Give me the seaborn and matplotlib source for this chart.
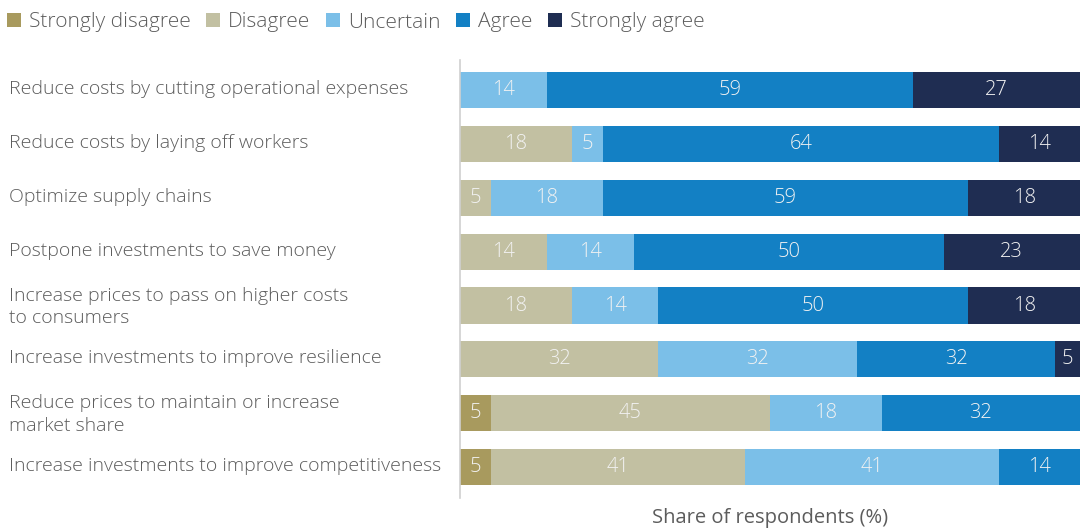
import matplotlib
matplotlib.use("Agg")
import matplotlib.pyplot as plt
import matplotlib.transforms as mtransforms
from matplotlib.patches import Patch
import numpy as np
import pandas as pd
import seaborn as sns

categories = [
    "Reduce costs by cutting operational expenses",
    "Reduce costs by laying off workers",
    "Optimize supply chains",
    "Postpone investments to save money",
    "Increase prices to pass on higher costs\nto consumers",
    "Increase investments to improve resilience",
    "Reduce prices to maintain or increase\nmarket share",
    "Increase investments to improve competitiveness",
]
strongly_disagree = [0, 0, 0, 0, 0, 0, 5, 5]
disagree = [0, 18, 5, 14, 18, 32, 45, 41]
uncertain = [14, 5, 18, 14, 14, 32, 18, 41]
agree = [59, 64, 59, 50, 50, 32, 32, 14]
strongly_agree = [27, 14, 18, 23, 18, 5, 0, 0]

response_names = ["Strongly disagree", "Disagree", "Uncertain", "Agree", "Strongly agree"]
response_colors = ["#A89A5E", "#C2C0A2", "#7BBFE8", "#1380C4", "#1F2D52"]
series = [strongly_disagree, disagree, uncertain, agree, strongly_agree]

sns.set_theme(style="white")
plt.rcParams["font.family"] = ["Open Sans", "DejaVu Sans"]
plt.rcParams["font.weight"] = "light"
text_color = "#5c5c5c"

fig = plt.figure(figsize=(10.8, 5.3), dpi=100)
ax = fig.add_axes([460 / 1080, 32 / 530, 620 / 1080, 438 / 530])

values = np.array(series, dtype=float)  # shape (responses, categories)
cum = np.cumsum(values, axis=0)

# Stacked bars: draw cumulative totals from the outermost segment inward
for i in range(len(series) - 1, -1, -1):
    df = pd.DataFrame({"category": categories, "value": cum[i]})
    sns.barplot(data=df, x="value", y="category", orient="h", color=response_colors[i],
                saturation=1, width=0.67, ax=ax, linewidth=0, errorbar=None)

# Segment value labels (centred on the visible part of each segment)
for i in range(len(series)):
    for j in range(len(categories)):
        v = values[i, j]
        if v <= 0:
            continue
        start = cum[i, j] - v
        end = min(cum[i, j], 100)
        ax.text((start + end) / 2, j, f"{int(v)}", ha="center", va="center",
                color="#f2f2f2", fontsize=14.5)

ax.set_xlim(0, 100)
ax.set_ylim(7.575, -0.56)
ax.set_xticks([])
ax.set_xlabel("Share of respondents (%)", fontsize=14.5, color=text_color, labelpad=7)
ax.set_ylabel("")
ax.tick_params(axis="y", length=0, pad=451 * 72 / 100, labelsize=14, labelcolor=text_color)
lift = mtransforms.ScaledTranslation(0, 3 / 100, fig.dpi_scale_trans)
for lbl in ax.get_yticklabels():
    lbl.set_horizontalalignment("left")
    lbl.set_linespacing(1.35)
    lbl.set_transform(lbl.get_transform() + lift)

for side in ["top", "right", "bottom"]:
    ax.spines[side].set_visible(False)
ax.spines["left"].set_color("#d0d0d0")
ax.spines["left"].set_linewidth(1.2)

handles = [Patch(facecolor=c, edgecolor="none") for c in response_colors]
fig.legend(handles, response_names, loc="upper left", bbox_to_anchor=(-0.005, 1.0),
           ncol=5, frameon=False, fontsize=15, labelcolor=text_color,
           handlelength=0.65, handleheight=0.65, handletextpad=0.4,
           columnspacing=0.75, borderaxespad=0.2)

fig.savefig("out.png", dpi=100)
